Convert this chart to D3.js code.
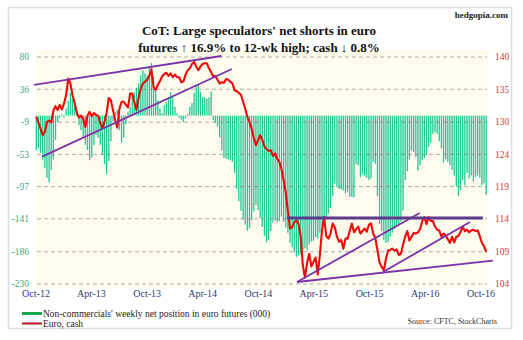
<!DOCTYPE html>
<html>
<head>
<meta charset="utf-8">
<script src="https://cdn.jsdelivr.net/npm/d3@7/dist/d3.min.js"></script>
<style>
  html, body { margin: 0; padding: 0; background: #fff; }
  svg { display: block; }
  text { font-family: "Liberation Serif", "Times New Roman", serif; }
</style>
</head>
<body>
<svg id="chart" width="523" height="340"></svg>
<script>
// Weekly CoT net position of non-commercials in euro futures (thousand contracts)
const weeklyNet = [
  -47,-44,-51,-60,-72,-85,-91,-74,-60,-33,
  -9,-3,2,-3,10,20,31,22,13,6,
  -13,-20,-29,-40,-47,-61,-57,-40,-27,-30,
  -40,-54,-66,-80,-62,-35,-8,5,8,-20,
  -37,-30,-12,5,12,25,32,38,44,55,
  62,58,55,65,72,53,35,21,10,3,
  14,19,25,32,25,12,3,-3,-6,-9,
  -4,2,12,17,31,40,42,33,25,25,
  23,25,33,-6,-10,-15,-30,-48,-58,-59,
  -60,-61,-63,-78,-100,-117,-130,-142,-149,-157,
  -154,-143,-131,-122,-129,-140,-152,-164,-173,-170,
  -158,-146,-143,-146,-144,-138,-145,-153,-160,-174,
  -180,-187,-193,-191,-190,-184,-181,-184,-176,-172,
  -171,-166,-168,-160,-150,-142,-139,-134,-126,-110,
  -93,-98,-100,-101,-102,-106,-104,-111,-111,-112,
  -66,-68,-84,-80,-82,-85,-88,-86,-63,-66,
  -110,-148,-158,-170,-174,-173,-165,-160,-155,-152,
  -148,-145,-130,-88,-76,-60,-48,-50,-57,-75,
  -68,-61,-58,-54,-43,-37,-25,-23,-25,-35,
  -45,-64,-60,-63,-68,-74,-82,-97,-110,-102,
  -88,-95,-78,-86,-82,-90,-84,-82,-85,-95,
  -92.5,-108
];

// Euro cash (US cents per euro), same weeks
const euroCash = [
  130.5,129.6,128.6,127.6,128.2,129.7,129.9,129.6,131.5,132.2,
  131.6,132.4,131.7,132.6,134.0,136.6,135.8,133.9,132.7,131.2,
  130.4,130.7,130.2,128.9,130.7,131.3,130.6,131.1,130.8,130.7,
  129.5,128.7,129.7,131.2,133.5,133.1,131.5,130.0,128.8,131.8,
  132.9,132.9,132.4,132.0,134.2,134.2,132.8,131.6,133.6,135.0,
  135.8,136.1,136.4,137.0,138.0,135.2,134.8,135.6,136.2,136.9,
  137.3,137.5,137.0,137.4,136.8,137.2,136.8,136.8,136.0,136.1,
  137.2,137.9,138.2,138.9,139.2,138.5,137.9,138.5,138.9,139.0,
  139.0,138.2,137.6,136.9,137.0,136.4,135.8,136.0,135.9,136.5,
  136.4,136.1,135.8,134.7,134.6,134.3,134.0,132.9,131.8,130.5,
  129.7,128.6,127.2,126.0,126.8,127.6,126.9,125.8,125.4,125.1,
  125.2,124.3,124.7,123.8,123.4,122.2,120.5,118.5,115.5,112.8,
  113.0,113.8,114.1,113.5,111.5,107.0,105.0,107.3,108.8,106.8,
  107.5,108.2,105.5,108.6,112.5,114.6,111.6,111.2,112.0,113.6,
  113.0,111.5,110.7,111.0,109.6,111.2,111.2,112.4,113.6,112.2,
  112.7,113.1,112.0,112.4,112.8,112.3,113.4,113.6,112.0,111.3,
  109.4,107.4,106.7,106.2,108.0,109.3,109.4,109.6,109.3,109.5,
  108.6,108.8,110.2,111.5,112.4,110.9,111.5,112.1,112.0,112.2,
  112.7,114.0,114.6,113.5,114.6,114.0,114.0,113.1,112.6,112.5,
  111.5,112.0,111.7,111.1,110.5,111.5,110.6,111.5,111.6,112.3,
  113.1,112.4,112.6,112.2,112.5,112.6,112.4,112.5,111.6,110.5,
  110.0,109.1
];

const firstWeek = "2012-10-02";
const leftTicks = [-230, -186, -141, -97, -53, -9, 36, 80];
const rightTickLabels = ["104", "109", "114", "119", "124", "130", "135", "140"];
const xTickLabels = ["Oct-12", "Apr-13", "Oct-13", "Apr-14", "Oct-14", "Apr-15", "Oct-15", "Apr-16", "Oct-16"];

// Trend lines on the euro, [start date, value, end date, value]
const channelLines = [
  ["2012-09-21", 135.56, "2014-06-02", 140.16],
  ["2012-10-21", 124.19, "2014-07-06", 138.10],
  ["2015-02-05", 104.32, "2016-03-14", 115.26],
  ["2015-11-14", 105.90, "2016-08-26", 113.83],
  ["2015-02-05", 104.32, "2016-11-09", 107.70]
];
const resistanceLine = ["2015-01-03", 114.47, "2016-10-07", 114.47];

const titleLines = [
  "CoT: Large speculators' net shorts in euro",
  "futures \u2191 16.9% to 12-wk high; cash \u2193 0.8%"
];
const legendLabels = ["Non-commercials' weekly net position in euro futures (000)", "Euro, cash"];

const parseDay = d3.utcParse("%Y-%m-%d");
const parseTick = d3.utcParse("%b-%y");
const start = parseDay(firstWeek);
const weeks = weeklyNet.map((d, i) => d3.utcDay.offset(start, 7 * i));

const svg = d3.select("#chart");

const x = d3.scaleUtc()
  .domain([parseDay("2012-10-01"), parseDay("2016-10-01")])
  .range([36, 481]);
const yL = d3.scaleLinear().domain([-230, 80]).range([284, 57]);
const yR = d3.scaleLinear().domain([104, 140]).range([284, 57]);

// frame
svg.append("rect").attr("x", 8.5).attr("y", 7.5).attr("width", 503).attr("height", 321)
  .attr("fill", "#fff").attr("stroke", "#d9dee7").attr("stroke-width", 1.5);

// plot background with faint cross-hatch
const defs = svg.append("defs");
const pat = defs.append("pattern").attr("id", "hatch")
  .attr("width", 4).attr("height", 4).attr("patternUnits", "userSpaceOnUse");
pat.append("rect").attr("width", 4).attr("height", 4).attr("fill", "#fffff6");
pat.append("path").attr("d", "M0,4 L4,0 M0,0 L4,4").attr("stroke", "#f8f4d8").attr("stroke-width", 0.6);
defs.append("clipPath").attr("id", "plotClip")
  .append("rect").attr("x", 34).attr("y", 45).attr("width", 462).attr("height", 245);

svg.append("rect").attr("x", 36).attr("y", 50).attr("width", 452).attr("height", 238)
  .attr("fill", "url(#hatch)");

const plot = svg.append("g").attr("clip-path", "url(#plotClip)");

// bars
plot.append("g").selectAll("rect").data(weeklyNet).join("rect")
  .attr("x", (d, i) => x(weeks[i]) - 0.65)
  .attr("width", 1.3)
  .attr("y", d => Math.min(yL(d), yL(0)))
  .attr("height", d => Math.abs(yL(d) - yL(0)))
  .attr("fill", "#22c897");

// gridlines
plot.append("g").selectAll("line").data(leftTicks).join("line")
  .attr("x1", 37).attr("x2", 487)
  .attr("y1", d => yL(d)).attr("y2", d => yL(d))
  .attr("stroke", "#7a7a7a").attr("stroke-opacity", 0.75)
  .attr("stroke-width", 0.8).attr("stroke-dasharray", "4,3");

// euro line
const line = d3.line().x((d, i) => x(weeks[i])).y(d => yR(d));
plot.append("path").datum(euroCash)
  .attr("d", line).attr("fill", "none")
  .attr("stroke", "#ee0a0a").attr("stroke-width", 2.1).attr("stroke-linejoin", "round");

// trend lines
plot.append("g").selectAll("line").data(channelLines).join("line")
  .attr("x1", d => x(parseDay(d[0]))).attr("y1", d => yR(d[1]))
  .attr("x2", d => x(parseDay(d[2]))).attr("y2", d => yR(d[3]))
  .attr("stroke", "#7d32a8").attr("stroke-width", 1.8);
plot.append("line")
  .attr("x1", x(parseDay(resistanceLine[0]))).attr("y1", yR(resistanceLine[1]))
  .attr("x2", x(parseDay(resistanceLine[2]))).attr("y2", yR(resistanceLine[3]))
  .attr("stroke", "#5f3b8e").attr("stroke-width", 3);

// left axis labels
svg.append("g").selectAll("text").data(leftTicks).join("text")
  .attr("x", 29).attr("y", d => yL(d)).attr("dy", "0.35em")
  .attr("text-anchor", "end").attr("font-size", 9.5).attr("fill", "#3da887")
  .text(d => d);

// right axis labels, on the same gridlines
svg.append("g").selectAll("text").data(rightTickLabels).join("text")
  .attr("x", 495).attr("y", (d, i) => yL(leftTicks[i])).attr("dy", "0.35em")
  .attr("font-size", 9.5).attr("fill", "#d23c3c")
  .text(d => d);

// time labels
svg.append("g").selectAll("text").data(xTickLabels).join("text")
  .attr("x", d => x(parseTick(d))).attr("y", 297)
  .attr("text-anchor", "middle").attr("font-size", 10).attr("fill", "#2b3a6a")
  .text(d => d);

// title
svg.append("g").selectAll("text").data(titleLines).join("text")
  .attr("x", 259).attr("y", (d, i) => 35 + i * 17)
  .attr("text-anchor", "middle").attr("font-size", 13).attr("font-weight", "bold")
  .attr("fill", "#111").text(d => d);
svg.append("text").attr("x", 508).attr("y", 18).attr("text-anchor", "end")
  .attr("font-size", 9).attr("font-weight", "bold").attr("fill", "#222")
  .text("hedgopia.com");

// legend
const legendColors = ["#10a84e", "#b3141b"];
const leg = svg.append("g");
leg.selectAll("rect").data(legendLabels).join("rect")
  .attr("x", 22).attr("width", 20)
  .attr("y", (d, i) => i === 0 ? 312 : 322.5)
  .attr("height", (d, i) => i === 0 ? 3 : 2)
  .attr("fill", (d, i) => legendColors[i]);
leg.selectAll("text").data(legendLabels).join("text")
  .attr("x", 43).attr("y", (d, i) => 317 + i * 10)
  .attr("font-size", 9.5).attr("fill", "#222").text(d => d);

svg.append("text").attr("x", 497).attr("y", 324).attr("text-anchor", "end")
  .attr("font-size", 8).attr("fill", "#333").text("Source: CFTC, StockCharts");
</script>
</body>
</html>
